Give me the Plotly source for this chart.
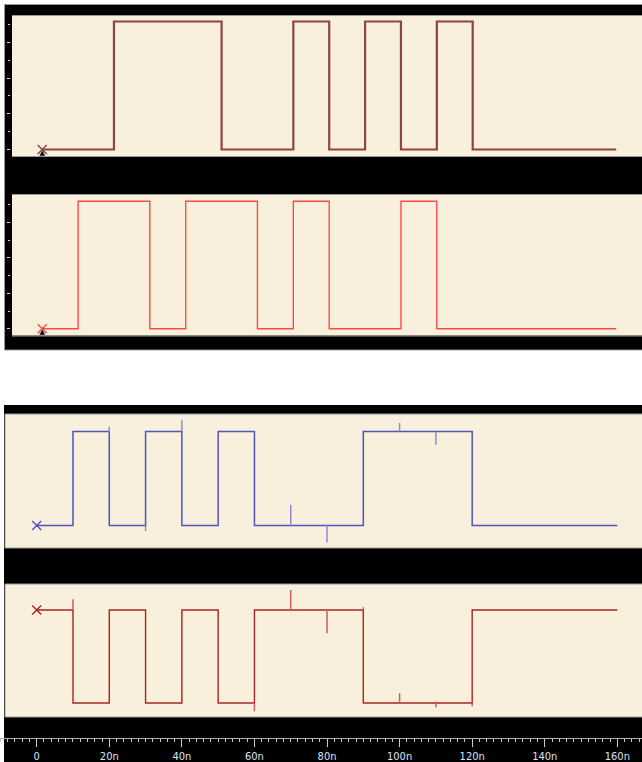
import plotly.graph_objects as go

W, H = 642, 762

# ---------------- data (times in ns, logic levels 0/1) ----------------
sig1_t = [0, 20, 50, 70, 80, 90, 100, 110, 120, 160]
sig1_v = [0, 1, 0, 1, 0, 1, 0, 1, 0, 0]

sig2_t = [0, 10, 30, 40, 60, 70, 80, 100, 110, 160]
sig2_v = [0, 1, 0, 1, 0, 1, 0, 1, 0, 0]

sig3_t = [0, 10, 20, 30, 40, 50, 60, 90, 120, 160]
sig3_v = [0, 1, 0, 1, 0, 1, 0, 1, 0, 0]

sig4_t = [0, 10, 20, 30, 40, 50, 60, 90, 120, 160]
sig4_v = [1, 0, 1, 0, 1, 0, 1, 0, 1, 1]

# glitches: time, level from, level to
glitch3_t = [20, 30, 40, 70, 80, 100, 110]
glitch3_a = [1.0, 0.0, 1.0, 0.0, 0.01, 1.0, 1.0]
glitch3_b = [1.05, -0.06, 1.12, 0.22, -0.18, 1.09, 0.86]

glitch4_t = [10, 60, 70, 80, 90, 100, 110, 120]
glitch4_a = [1.0, 0.0, 1.0, 1.0, 1.0, 0.0, -0.045, 0.0]
glitch4_b = [1.115, -0.09, 1.215, 0.75, 1.03, 0.105, 0.015, -0.035]

tick_vals = [0, 20, 40, 60, 80, 100, 120, 140, 160]
tick_text = ["0", "20n", "40n", "60n", "80n", "100n", "120n", "140n", "160n"]

# ---------------- geometry helpers ----------------
def fx(x):
    return x / W

def fy(y):
    return 1 - y / H

def seg(ts, a, b):
    xs, ys = [], []
    for t, y0, y1 in zip(ts, a, b):
        xs += [t, t, None]
        ys += [y0, y1, None]
    return xs, ys

C1 = "#8E4444"
C2 = "#FF4A4A"
C3 = "#5252C0"
C3L = "#8C8CD6"
C4 = "#A82424"
C4L = "#C86060"
BEIGE = "#F8F0DC"
GRAY = "#9A9A9A"

fig = go.Figure()

# top panels (x2 axis)
fig.add_trace(go.Scatter(x=sig1_t, y=sig1_v, xaxis="x2", yaxis="y", mode="lines",
                         line=dict(color=C1, width=2.2, shape="hv")))
fig.add_trace(go.Scatter(x=sig2_t, y=sig2_v, xaxis="x2", yaxis="y2", mode="lines",
                         line=dict(color=C2, width=1.4, shape="hv")))
# bottom panels (x axis)
fig.add_trace(go.Scatter(x=sig3_t, y=sig3_v, xaxis="x", yaxis="y3", mode="lines",
                         line=dict(color=C3, width=1.5, shape="hv")))
gx, gy = seg(glitch3_t, glitch3_a, glitch3_b)
fig.add_trace(go.Scatter(x=gx, y=gy, xaxis="x", yaxis="y3", mode="lines",
                         line=dict(color=C3L, width=1.5)))
fig.add_trace(go.Scatter(x=sig4_t, y=sig4_v, xaxis="x", yaxis="y4", mode="lines",
                         line=dict(color=C4, width=1.4, shape="hv")))
gx, gy = seg(glitch4_t, glitch4_a, glitch4_b)
fig.add_trace(go.Scatter(x=gx, y=gy, xaxis="x", yaxis="y4", mode="lines",
                         line=dict(color=C4L, width=1.5)))

# start markers
for tt, vv, col, xa, ya, tri in [
    (sig1_t, sig1_v, C1, "x2", "y", True),
    (sig2_t, sig2_v, C2, "x2", "y2", True),
    (sig3_t, sig3_v, C3, "x", "y3", False),
    (sig4_t, sig4_v, C4, "x", "y4", False),
]:
    fig.add_trace(go.Scatter(x=[tt[0]], y=[vv[0]], xaxis=xa, yaxis=ya, mode="markers",
                             marker=dict(symbol="x-thin", size=9,
                                         line=dict(color=col, width=1.4)),
                             cliponaxis=False))
    if tri:
        fig.add_trace(go.Scatter(x=[tt[0]], y=[vv[0]], xaxis=xa, yaxis=ya, mode="text",
                                 text=["▲"], textposition="bottom center",
                                 textfont=dict(size=7, color="black",
                                               family="DejaVu Sans"),
                                 cliponaxis=False))

shapes = []
def rect(x0, y0, x1, y1, fill, line=None):
    shapes.append(dict(type="rect", xref="paper", yref="paper", layer="below",
                       x0=fx(x0), x1=fx(x1), y0=fy(y1), y1=fy(y0),
                       fillcolor=fill,
                       line=dict(width=1 if line else 0, color=line or fill)))

def hline(x0, x1, y, col):
    shapes.append(dict(type="line", xref="paper", yref="paper", layer="below",
                       x0=fx(x0), x1=fx(x1), y0=fy(y), y1=fy(y),
                       line=dict(width=1, color=col)))

# top block
rect(4.5, 4.5, 643, 350, "black", GRAY)
rect(12, 16, 643, 156, BEIGE)
hline(12, 642, 15.5, GRAY)
hline(12, 642, 156.5, GRAY)
rect(12, 195, 643, 335.5, BEIGE)
hline(12, 642, 194.5, GRAY)
hline(12, 642, 336, GRAY)
# bottom block
rect(4, 405, 643, 763, "black")
rect(5, 414, 643, 548, BEIGE, GRAY)
rect(5, 584, 643, 717, BEIGE, GRAY)

# axis ranges from pixel mapping
bx0, bs = 36.7, 3.629   # bottom time axis: px of t=0, px per ns
tx0, ts = 42.2, 3.5875  # top time axis

def yr(low_px, high_px, top_px, bot_px):
    u = low_px - high_px
    return [(low_px - bot_px) / u, (low_px - top_px) / u]

hidden = dict(showgrid=False, zeroline=False, showticklabels=False, ticks="",
              showline=False)

fig.update_layout(
    width=W, height=H,
    margin=dict(l=0, r=0, t=0, b=0),
    paper_bgcolor="white", plot_bgcolor="rgba(0,0,0,0)",
    showlegend=False, shapes=shapes,
    xaxis=dict(domain=[0, 1], range=[(0 - bx0) / bs, (W - bx0) / bs],
               anchor="free", position=fy(738),
               showgrid=False, zeroline=False,
               showline=True, linecolor="#B0B0B0", linewidth=1,
               tickmode="array", tickvals=tick_vals, ticktext=tick_text,
               ticks="outside", ticklen=8, tickwidth=1, tickcolor="#C8C8C8",
               tickfont=dict(family="Liberation Sans Narrow, DejaVu Sans Condensed, Arial Narrow, sans-serif",
                             size=11, color="#DDE3F2"),
               minor=dict(dtick=2, tick0=0, ticks="outside", ticklen=3,
                          tickwidth=1, tickcolor="#C8C8C8", showgrid=False)),
    xaxis2=dict(domain=[0, 1], range=[(0 - tx0) / ts, (W - tx0) / ts],
                anchor="y", **hidden),
    yaxis=dict(domain=[fy(156), fy(16)], range=yr(149.5, 21.5, 16, 156),
               anchor="free", position=fx(9.5),
               showgrid=False, zeroline=False, showticklabels=False, showline=False,
               tick0=0, dtick=35.67 / 128, ticks="outside", ticklen=3,
               tickwidth=1, tickcolor="#D8D8D8",
               minor=dict(dtick=35.67 / 256, tick0=0, ticks="outside", ticklen=1.5,
                          tickwidth=1, tickcolor="#D8D8D8", showgrid=False)),
    yaxis2=dict(domain=[fy(335.5), fy(194.5)], range=yr(328.7, 201.3, 194.5, 335.5),
                anchor="free", position=fx(9.5),
                showgrid=False, zeroline=False, showticklabels=False, showline=False,
                tick0=0, dtick=35.4 / 127.4, ticks="outside", ticklen=3,
                tickwidth=1, tickcolor="#D8D8D8",
                minor=dict(dtick=35.4 / 254.8, tick0=0, ticks="outside", ticklen=1.5,
                           tickwidth=1, tickcolor="#D8D8D8", showgrid=False)),
    yaxis3=dict(domain=[fy(548), fy(414)], range=yr(525.5, 431.5, 414, 548),
                anchor="x", **hidden),
    yaxis4=dict(domain=[fy(717), fy(584)], range=yr(703, 610, 584, 717),
                anchor="x", **hidden),
)

fig.write_html("out.html",
               config={"displayModeBar": False},
               post_script="document.body.style.margin='0';document.body.style.padding='0';")
